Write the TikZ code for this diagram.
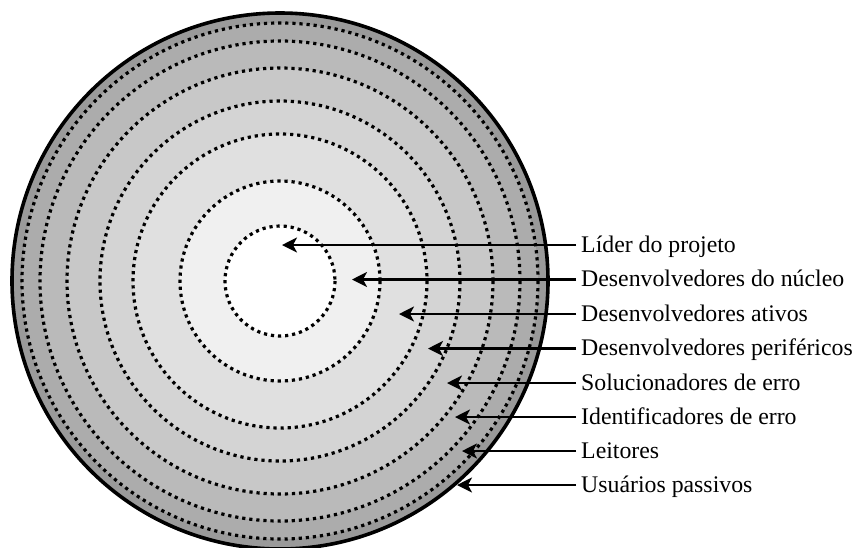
\documentclass[tikz,border=0pt]{standalone}
\usepackage{fontspec}
\setmainfont{Liberation Serif}
\usetikzlibrary{arrows.meta}
\begin{document}
\begin{tikzpicture}[x=1pt,y=-1pt,
  dotring/.style={line width=3.2pt, dash pattern=on 3.2pt off 3.9pt},
  outerring/.style={line width=3.6pt},
  lbl/.style={anchor=base west, inner sep=0pt, font=\fontsize{23.8}{28}\selectfont},
  pointer/.style={line width=2.2pt, -{Stealth[length=15pt,width=15pt,inset=4pt]}}
]
\useasboundingbox (0,0) rectangle (856,547);
\coordinate (c) at (280,281);
% filled bands
\fill[color={rgb,255:red,154;green,154;blue,154}] (c) circle[radius=268];
\fill[color={rgb,255:red,172;green,172;blue,172}] (c) circle[radius=258];
\fill[color={rgb,255:red,186;green,186;blue,186}] (c) circle[radius=240];
\fill[color={rgb,255:red,200;green,200;blue,200}] (c) circle[radius=213];
\fill[color={rgb,255:red,212;green,212;blue,212}] (c) circle[radius=180];
\fill[color={rgb,255:red,224;green,224;blue,224}] (c) circle[radius=147];
\fill[color={rgb,255:red,240;green,240;blue,240}] (c) circle[radius=100];
\fill[white] (c) circle[radius=55];
% dotted boundaries
\foreach \r in {55,100,147,180,213,240,258}
  \draw[dotring] (c) circle[radius=\r];
\draw[outerring] (c) circle[radius=268];
% tips
\coordinate (t1) at (282,245);
\coordinate (t2) at (352,279.5);
\coordinate (t3) at (399,314);
\coordinate (t4) at (428,348.5);
\coordinate (t5) at (447,383);
\coordinate (t6) at (455,417);
\coordinate (t7) at (462,451);
\coordinate (t8) at (457,485);
% labels
\node[lbl] (l1) at (581,252) {Líder do projeto};
\node[lbl] (l2) at (581,286.5) {Desenvolvedores do núcleo};
\node[lbl] (l3) at (581,321) {Desenvolvedores ativos};
\node[lbl] (l4) at (581,355.5) {Desenvolvedores periféricos};
\node[lbl] (l5) at (581,390) {Solucionadores de erro};
\node[lbl] (l6) at (581,424) {Identificadores de erro};
\node[lbl] (l7) at (581,458) {Leitores};
\node[lbl] (l8) at (581,492) {Usuários passivos};
\foreach \i in {1,...,8}
  \draw[pointer] (l\i.west |- t\i) ++(-5,0) -- (t\i);
\end{tikzpicture}
\end{document}
